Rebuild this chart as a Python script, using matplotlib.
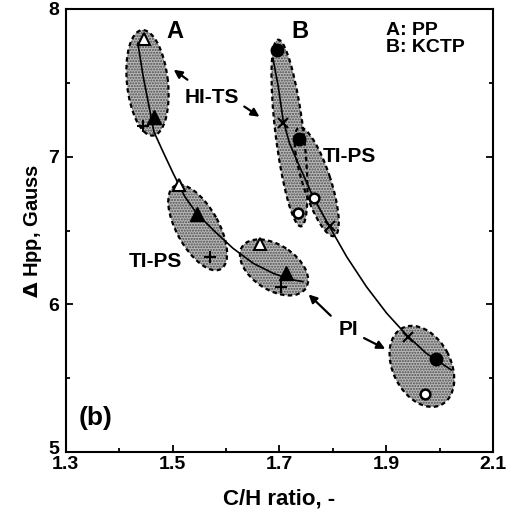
import numpy as np
import matplotlib
matplotlib.use("Agg")
from matplotlib import pyplot as plt
from matplotlib.patches import Ellipse
from matplotlib.transforms import ScaledTranslation

plt.rcParams['font.family'] = ['Liberation Sans', 'DejaVu Sans']
plt.rcParams['font.weight'] = 'bold'

## A: PP  (open triangle, filled triangle, plus)
pp_open_x = [1.446, 1.512, 1.663]
pp_open_y = [7.80, 6.81, 6.41]
pp_fill_x = [1.465, 1.545, 1.713]
pp_fill_y = [7.27, 6.61, 6.21]
pp_plus_x = [1.445, 1.571, 1.704]
pp_plus_y = [7.21, 6.32, 6.12]

## B: KCTP  (filled circle, open circle, cross)
kc_fill_x = [1.696, 1.736, 1.994]
kc_fill_y = [7.72, 7.12, 5.63]
kc_open_x = [1.734, 1.765, 1.972]
kc_open_y = [6.62, 6.72, 5.39]
kc_cross_x = [1.707, 1.794, 1.941]
kc_cross_y = [7.23, 6.53, 5.78]

## trend curves
curve_a_x = [1.435, 1.445, 1.456, 1.465, 1.482, 1.501, 1.523, 1.545, 1.576,
             1.613, 1.651, 1.688, 1.719, 1.744]
curve_a_y = [7.768, 7.542, 7.339, 7.169, 7.034, 6.888, 6.729, 6.617, 6.504,
             6.380, 6.278, 6.211, 6.170, 6.154]
curve_b_x = [1.688, 1.698, 1.707, 1.719, 1.738, 1.763, 1.794, 1.826, 1.863,
             1.901, 1.938, 1.975, 2.022]
curve_b_y = [7.666, 7.474, 7.248, 7.091, 6.932, 6.729, 6.526, 6.323, 6.120,
             5.940, 5.793, 5.669, 5.556]

# shaded groups: centre (data), long/short axis (px), angle (deg)
groups = [
    ((1.453, 7.50), 106, 41, 96),
    ((1.547, 6.52), 95, 42, 119),
    ((1.690, 6.25), 76, 45, 147),
    ((1.719, 7.16), 188, 28, 97),
    ((1.770, 6.83), 114, 28, 108),
    ((1.967, 5.58), 86, 58, 117),
]

fig = plt.figure(figsize=(5.14, 5.29), dpi=100)
ax = fig.add_axes([0.128, 0.1455, 0.831, 0.8375])

for (cx, cy), w, h, ang in groups:
    tr = fig.dpi_scale_trans + ScaledTranslation(cx, cy, ax.transData)
    # stippled grey fill, then dashed outline on top
    ax.add_patch(Ellipse((0, 0), w / 100, h / 100, angle=ang, transform=tr,
                         facecolor='0.72', edgecolor='0.3', linewidth=0,
                         hatch='......', zorder=1))
    ax.add_patch(Ellipse((0, 0), w / 100, h / 100, angle=ang, transform=tr,
                         facecolor='none', edgecolor='black',
                         linestyle=(0, (2, 1.5)), linewidth=1.6, zorder=1.5))

ax.plot(curve_a_x, curve_a_y, color='black', lw=1.2, zorder=2)
ax.plot(curve_b_x, curve_b_y, color='black', lw=1.2, zorder=2)

ax.plot(pp_open_x, pp_open_y, '^', mfc='white', mec='black', mew=1.5, ms=8, ls='none', zorder=3)
ax.plot(pp_fill_x, pp_fill_y, '^', mfc='black', mec='black', ms=10, ls='none', zorder=3)
ax.plot(pp_plus_x, pp_plus_y, '+', color='black', mew=1.5, ms=8, ls='none', zorder=3)
ax.plot(kc_fill_x, kc_fill_y, 'o', mfc='black', mec='black', ms=9, ls='none', zorder=3)
ax.plot(kc_open_x, kc_open_y, 'o', mfc='white', mec='black', mew=1.8, ms=7, ls='none', zorder=3)
ax.plot(kc_cross_x, kc_cross_y, 'x', color='black', mew=1.5, ms=7, ls='none', zorder=3)

ax.set_xlim(1.3, 2.1)
ax.set_ylim(5, 8)
ax.set_xticks([1.3, 1.5, 1.7, 1.9, 2.1])
ax.set_xticks([1.4, 1.6, 1.8, 2.0], minor=True)
ax.set_yticks([5, 6, 7, 8])
ax.set_yticks([5.5, 6.5, 7.5], minor=True)
ax.tick_params(which='both', direction='in', right=True, labelsize=14, width=1.3)
ax.tick_params(which='major', length=5)
ax.tick_params(which='minor', length=3)
ax.tick_params(axis='y', pad=5)
ax.tick_params(axis='x', pad=3)
for s in ax.spines.values():
    s.set_linewidth(1.5)
# lift the "5" a little so it sits above "1.3" as in the original
ylab5 = ax.get_yticklabels()[0]
ylab5.set_transform(ylab5.get_transform() + ScaledTranslation(0, 0.05, fig.dpi_scale_trans))

ax.set_xlabel('C/H ratio, -', fontsize=16, fontweight='bold', labelpad=11)
ax.set_ylabel('$\\Delta$ Hpp, Gauss', fontsize=14.5, fontweight='bold', labelpad=3)

tk = dict(fontweight='bold', ha='center', va='center')
ax.text(1.505, 7.85, 'A', fontsize=17, **tk)
ax.text(1.738, 7.85, 'B', fontsize=17, **tk)
ax.text(1.900, 7.80, 'A: PP\nB: KCTP', fontsize=14, fontweight='bold',
        ha='left', va='center', linespacing=1.0)
ax.text(1.573, 7.40, 'HI-TS', fontsize=15, **tk)
ax.text(1.832, 7.00, 'TI-PS', fontsize=15, **tk)
ax.text(1.468, 6.29, 'TI-PS', fontsize=15, **tk)
ax.text(1.830, 5.83, 'PI', fontsize=15, **tk)
ax.text(1.355, 5.23, '(b)', fontsize=19, **tk)

ap = dict(arrowstyle='-|>', color='black', lw=1.6, mutation_scale=12)
ax.annotate('', xy=(1.498, 7.60), xytext=(1.532, 7.51), arrowprops=ap)
ax.annotate('', xy=(1.667, 7.26), xytext=(1.630, 7.35), arrowprops=ap)
ax.annotate('', xy=(1.751, 6.08), xytext=(1.800, 5.91), arrowprops=ap)
ax.annotate('', xy=(1.903, 5.69), xytext=(1.854, 5.78), arrowprops=ap)

fig.savefig('out.png', dpi=100)
